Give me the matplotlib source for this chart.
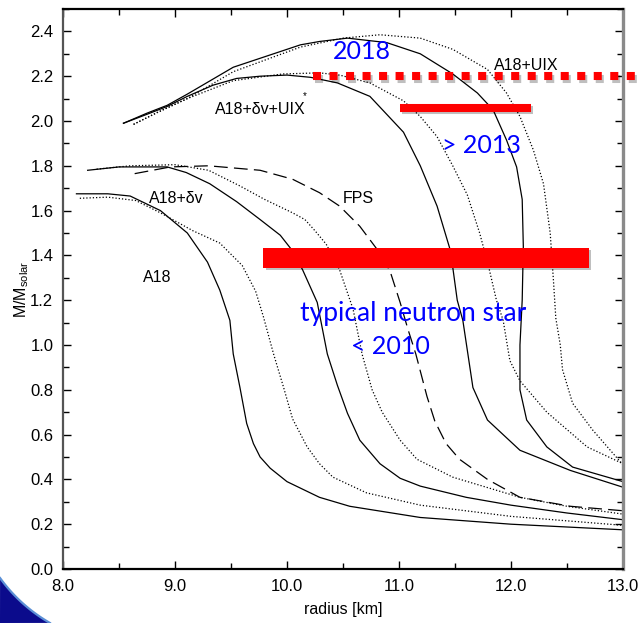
import matplotlib.pyplot as plt
import matplotlib.patheffects as pe
import numpy as np
from matplotlib.patches import Polygon
from matplotlib.ticker import MultipleLocator

# mass-radius curves: radius [km], mass [M_solar]
A18_R = [8.12, 8.40, 8.60, 8.87, 9.11, 9.29, 9.40, 9.49, 9.52, 9.58, 9.64, 9.70,
         9.76, 9.85, 10.00, 10.29, 10.56, 11.19, 12.00, 13.00]
A18_M = [1.675, 1.675, 1.665, 1.60, 1.50, 1.37, 1.245, 1.11, 0.96, 0.81, 0.65,
         0.56, 0.50, 0.45, 0.39, 0.32, 0.28, 0.23, 0.20, 0.175]
A18_DOT_R = [8.15, 8.40, 8.65, 8.87, 9.16, 9.40, 9.60, 9.72, 9.79, 9.88, 9.97, 10.05,
             10.18, 10.29, 10.41, 10.71, 11.19, 12.00, 13.00]
A18_DOT_M = [1.655, 1.66, 1.645, 1.59, 1.51, 1.455, 1.355, 1.24, 1.125, 0.96, 0.81, 0.67,
             0.545, 0.47, 0.41, 0.34, 0.285, 0.235, 0.195]

DV_R = [8.22, 8.50, 8.93, 9.10, 9.31, 9.55, 9.76, 9.94, 10.05, 10.14, 10.27, 10.36,
        10.45, 10.54, 10.65, 10.83, 11.01, 11.19, 11.60, 12.00, 12.50, 13.00]
DV_M = [1.78, 1.795, 1.795, 1.77, 1.72, 1.64, 1.56, 1.49, 1.42, 1.335, 1.19, 0.96,
        0.82, 0.695, 0.575, 0.47, 0.405, 0.37, 0.32, 0.285, 0.25, 0.22]
DV_DOT_R = [8.30, 8.60, 9.00, 9.30, 9.58, 9.80, 10.05, 10.16, 10.25, 10.35, 10.47, 10.59,
            10.67, 10.76, 10.85, 11.01, 11.16, 11.48, 12.08, 12.50, 13.00]
DV_DOT_M = [1.785, 1.80, 1.805, 1.78, 1.71, 1.65, 1.59, 1.56, 1.51, 1.45, 1.335, 1.16,
            0.96, 0.80, 0.70, 0.575, 0.49, 0.41, 0.32, 0.28, 0.245]

FPS_R = [8.64, 8.96, 9.30, 9.76, 10.05, 10.29, 10.47, 10.65, 10.83, 10.92, 11.01, 11.08,
         11.15, 11.25, 11.32, 11.42, 11.54, 11.79, 12.08, 12.53, 13.00]
FPS_M = [1.765, 1.795, 1.80, 1.78, 1.74, 1.68, 1.62, 1.53, 1.41, 1.33, 1.19, 1.07,
         0.96, 0.77, 0.66, 0.56, 0.49, 0.40, 0.32, 0.28, 0.26]

UIXS_R = [8.54, 8.75, 8.93, 9.11, 9.34, 9.55, 9.76, 10.00, 10.21, 10.45, 10.74, 11.04,
          11.19, 11.34, 11.46, 11.52, 11.57, 11.66, 11.79, 12.08, 12.53, 13.00]
UIXS_M = [1.99, 2.03, 2.065, 2.11, 2.16, 2.19, 2.20, 2.205, 2.195, 2.17, 2.11, 1.95,
          1.80, 1.62, 1.42, 1.20, 1.11, 0.81, 0.665, 0.53, 0.44, 0.365]
UIXS_DOT_R = [8.63, 8.85, 9.11, 9.52, 9.96, 10.29, 10.47, 10.74, 11.04, 11.19, 11.34,
              11.48, 11.61, 11.72, 11.80, 11.87, 11.93, 11.99, 12.08, 12.32, 12.68, 13.00]
UIXS_DOT_M = [1.985, 2.04, 2.10, 2.18, 2.21, 2.215, 2.205, 2.17, 2.09, 2.02, 1.93,
              1.80, 1.67, 1.50, 1.35, 1.20, 1.11, 0.93, 0.84, 0.70, 0.545, 0.47]

UIX_R = [8.54, 8.75, 8.93, 9.11, 9.52, 9.82, 10.12, 10.29, 10.54, 10.89, 11.19, 11.48,
         11.70, 11.84, 11.96, 12.05, 12.10, 12.11, 12.10, 12.08, 12.08, 12.14, 12.32,
         12.55, 13.00]
UIX_M = [1.99, 2.035, 2.07, 2.12, 2.24, 2.29, 2.34, 2.355, 2.37, 2.35, 2.30, 2.21,
         2.125, 2.05, 1.915, 1.795, 1.65, 1.44, 1.20, 1.00, 0.80, 0.665, 0.545,
         0.455, 0.39]
UIX_DOT_R = [8.63, 8.85, 9.11, 9.52, 10.12, 10.50, 10.83, 11.19, 11.48, 11.79, 11.96,
             12.08, 12.20, 12.29, 12.35, 12.38, 12.40, 12.44, 12.46, 12.55, 12.73, 13.00]
UIX_DOT_M = [1.985, 2.04, 2.10, 2.22, 2.33, 2.37, 2.385, 2.37, 2.32, 2.23, 2.125,
             2.02, 1.87, 1.72, 1.50, 1.28, 1.12, 1.00, 0.89, 0.74, 0.62, 0.465]

# observational constraints (red bars): radius span, mass
OBS_2018_R = [10.23, 13.14]
OBS_2018_M = 2.20
OBS_2013_R = [11.01, 12.18]
OBS_2013_M = 2.06
OBS_2010_R = [9.79, 12.70]
OBS_2010_M = 1.39

BLACK_LABELS = ["A18", "A18+δv", "A18+δv+UIX", "FPS", "A18+UIX"]
BLACK_LABEL_POS = [(8.84, 1.30), (9.01, 1.655), (9.76, 2.05), (10.64, 1.655), (12.14, 2.25)]
BLUE_LABELS = ["2018", "> 2013", "typical neutron star", "< 2010"]
BLUE_LABEL_POS = [(10.67, 2.31), (11.74, 1.89), (11.13, 1.14), (10.92, 0.995)]
BLUE_SIZES = [18, 18, 19, 18]

SANS = ["Liberation Sans", "DejaVu Sans"]
BLUE_FONT = ["Lato", "Open Sans", "DejaVu Sans"]
RED = "#ff0000"

plt.rcParams["font.family"] = SANS
plt.rcParams["mathtext.fontset"] = "custom"
plt.rcParams["mathtext.rm"] = "Liberation Sans"

fig = plt.figure(figsize=(6.39, 6.23), dpi=100)
ax = fig.add_axes([63 / 639, 54 / 623, 560 / 639, 560 / 623])

# decorative blue swoosh in the lower-left corner (figure pixels)
theta = np.linspace(np.pi + 0.625, np.pi + 1.05, 40)
arc_x = np.clip(129 + 159 * np.cos(theta), 0, None)
arc_y = np.clip(138 + 159 * np.sin(theta), 0, None)
corner = np.column_stack([np.r_[0, arc_x], np.r_[0, arc_y]])
fig.patches.append(Polygon(corner / [639, 623], closed=True, transform=fig.transFigure,
                           facecolor="#0b0b8c", edgecolor="none", zorder=0))
fig.add_artist(plt.Line2D(arc_x / 639, arc_y / 623, transform=fig.transFigure,
                          color="#5b8fd6", linewidth=1.6, zorder=1))

line_kw = dict(color="black", linewidth=0.9)
dot_kw = dict(color="black", linewidth=0.9, linestyle=(0, (1, 1.6)))
ax.plot(A18_R, A18_M, **line_kw)
ax.plot(A18_DOT_R, A18_DOT_M, **dot_kw)
ax.plot(DV_R, DV_M, **line_kw)
ax.plot(DV_DOT_R, DV_DOT_M, **dot_kw)
ax.plot(FPS_R, FPS_M, color="black", linewidth=0.9, linestyle=(0, (11, 5)))
ax.plot(UIXS_R, UIXS_M, **line_kw)
ax.plot(UIXS_DOT_R, UIXS_DOT_M, **dot_kw)
ax.plot(UIX_R, UIX_M, **line_kw)
ax.plot(UIX_DOT_R, UIX_DOT_M, **dot_kw)

shadow = [pe.SimpleLineShadow(offset=(1.5, -2), shadow_color="black", alpha=0.25),
          pe.Normal()]
ax.plot(OBS_2018_R, [OBS_2018_M] * 2, color=RED, linewidth=5.8,
        linestyle=(0, (1.0, 1.05)), solid_capstyle="butt", clip_on=False,
        path_effects=shadow, zorder=5)
ax.plot(OBS_2013_R, [OBS_2013_M] * 2, color=RED, linewidth=5.8,
        solid_capstyle="butt", path_effects=shadow, zorder=5)
ax.plot(OBS_2010_R, [OBS_2010_M] * 2, color=RED, linewidth=14.4,
        solid_capstyle="butt", path_effects=shadow, zorder=5)

for label, (x, y) in zip(BLACK_LABELS, BLACK_LABEL_POS):
    ax.text(x, y, label, ha="center", va="center", fontsize=11.5, color="black")
ax.text(10.16, 2.11, "*", ha="center", va="center", fontsize=7, color="black")

for label, (x, y), size in zip(BLUE_LABELS, BLUE_LABEL_POS, BLUE_SIZES):
    ax.text(x, y, label, ha="center", va="center", fontsize=size, color="#0000ff",
            family=BLUE_FONT, zorder=6)

ax.set_xlim(8.0, 13.0)
ax.set_ylim(0.0, 2.5)
ax.set_xticks(np.arange(8, 13.01, 1.0))
ax.set_xticklabels([f"{v:.1f}" for v in np.arange(8, 13.01, 1.0)])
ax.set_yticks(np.arange(0, 2.41, 0.2))
ax.set_yticklabels([f"{v:.1f}" for v in np.arange(0, 2.41, 0.2)])
ax.xaxis.set_minor_locator(MultipleLocator(0.5))
ax.yaxis.set_minor_locator(MultipleLocator(0.1))
ax.tick_params(which="both", direction="in", top=True, right=True, labelsize=12,
               width=1.0, color="black")
ax.tick_params(which="major", length=6, pad=7)
ax.tick_params(which="minor", length=4)

ax.spines["left"].set_color("#555555")
ax.spines["left"].set_linewidth(1.6)
ax.spines["right"].set_color("#8a8a8a")
ax.spines["right"].set_linewidth(2.4)
ax.spines["top"].set_linewidth(1.6)
ax.spines["bottom"].set_linewidth(1.6)

ax.set_xlabel("radius [km]", fontsize=11.5)
ax.set_ylabel(r"M/M$_{\mathrm{solar}}$", fontsize=11.5)
ax.xaxis.set_label_coords(0.5, -(602 - 569) / 560)
ax.yaxis.set_label_coords(-(63 - 31) / 560, 0.5)

fig.savefig("out.png", dpi=100)
plt.close(fig)
